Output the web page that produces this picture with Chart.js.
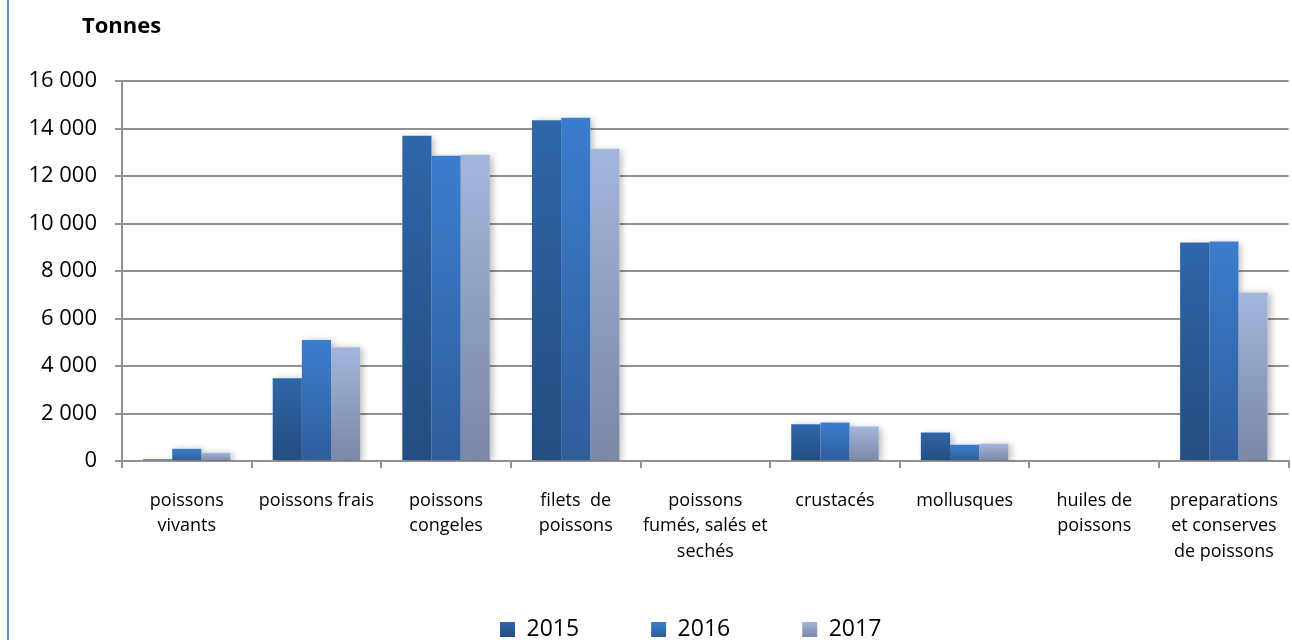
<!DOCTYPE html>
<html>
<head>
<meta charset="utf-8">
<script src="https://cdn.jsdelivr.net/npm/chart.js@4"></script>
<style>
  html, body { margin: 0; padding: 0; background: #fff; overflow: hidden; }
  #wrap { position: relative; width: 1292px; height: 640px; overflow: hidden; }
  #chart { position: absolute; left: 0; top: 0; }
  #frame { position: absolute; left: 7px; top: 0; width: 2px; height: 640px; background: #5b8bc9; }
</style>
</head>
<body>
<div id="wrap">
  <canvas id="chart" width="1298" height="640"></canvas>
  <div id="frame"></div>
</div>
<script>
// categories (multi-line labels as in the original)
const categories = [
    ['poissons', 'vivants'],
    ['poissons frais'],
    ['poissons', 'congeles'],
    ['filets  de', 'poissons'],
    ['poissons', 'fumés, salés et', 'sechés'],
    ['crustacés'],
    ['mollusques'],
    ['huiles de', 'poissons'],
    ['preparations', 'et conserves', 'de poissons']
]
const years = ['2015', '2016', '2017']

// tonnes
const values2015 = [70, 3480, 13700, 14350, 0, 1550, 1200, 0, 9200]
const values2016 = [520, 5090, 12850, 14450, 0, 1620, 680, 0, 9240]
const values2017 = [350, 4790, 12900, 13150, 0, 1450, 725, 0, 7100]

const yTicks = [0, 2000, 4000, 6000, 8000, 10000, 12000, 14000, 16000]

const colorsTop = ['#2e66a8', '#3b7dce', '#a3b6dc']
const colorsBottom = ['#244d80', '#2e5d9b', '#7a87a5']

const gridColor = '#919191'
const font = "'Open Sans', 'Noto Sans', sans-serif"

function fmt(v) {
    return String(v).replace(/\B(?=(\d{3})+(?!\d))/g, ' ')
}

// vertical gradient over each bar's own height
function barFill(i) {
    return function (ctx) {
        const chart = ctx.chart
        const y = chart.scales && chart.scales.y
        if (ctx.type !== 'data' || !y || !chart.chartArea) return colorsTop[i]
        const yTop = y.getPixelForValue(ctx.raw)
        const yBase = y.getPixelForValue(0)
        if (!(yBase - yTop > 1)) return colorsBottom[i]
        const g = chart.ctx.createLinearGradient(0, yTop, 0, yBase)
        g.addColorStop(0, colorsTop[i])
        g.addColorStop(1, colorsBottom[i])
        return g
    }
}

// soft shadow behind bars, drawn before the bars themselves
const barShadow = {
    id: 'barShadow',
    beforeDatasetsDraw(chart) {
        const c = chart.ctx
        const area = chart.chartArea
        c.save()
        c.beginPath()
        c.rect(area.left, area.top - 10, area.right - area.left + 10, area.bottom - area.top + 10)
        c.clip()
        c.shadowColor = 'rgba(0,0,0,0.28)'
        c.shadowBlur = 7
        c.shadowOffsetX = 3
        c.shadowOffsetY = 1
        c.fillStyle = '#ffffff'
        chart.getSortedVisibleDatasetMetas().forEach(meta => {
            meta.data.forEach(bar => {
                const h = bar.base - bar.y
                if (h > 0.5) c.fillRect(bar.x - bar.width / 2, bar.y, bar.width, h)
            })
        })
        c.restore()
    }
}

// move title and legend to where the original has them
const placeBoxes = {
    id: 'placeBoxes',
    afterLayout(chart) {
        const t = chart.titleBlock
        if (t) { t.left += 82; t.right += 82 }
        const l = chart.legend
        if (l && l.lineWidths) {
            const pad = l.options.labels.padding
            const startX = (l.left + pad + l.right - l.lineWidths[0]) / 2
            const dx = 500 - startX
            l.left += dx; l.right += dx
            // only the top moves, so the legend's clip box still covers the items
            l.top = 546
            l.bottom = chart.height
        }
    }
}

const datasets = [values2015, values2016, values2017].map((vals, i) => ({
    label: years[i],
    data: vals,
    backgroundColor: barFill(i),
    borderWidth: 0,
    barPercentage: 1,
    categoryPercentage: 0.675
}))

const chart = new Chart(document.getElementById('chart').getContext('2d'), {
    type: 'bar',
    data: { labels: categories, datasets: datasets },
    plugins: [barShadow, placeBoxes],
    options: {
        responsive: false,
        animation: false,
        devicePixelRatio: 1,
        layout: { padding: 0 },
        plugins: {
            title: {
                display: true,
                text: 'Tonnes',
                align: 'start',
                color: '#000',
                font: { family: font, size: 22, weight: 'bold', lineHeight: 1.2 },
                padding: { top: 14, bottom: 40.6 }
            },
            legend: {
                position: 'bottom',
                maxHeight: 40,
                labels: {
                    color: '#000',
                    font: { family: font, size: 23 },
                    boxWidth: 15,
                    boxHeight: 15,
                    padding: 72,
                    generateLabels(chart) {
                        const c = chart.ctx
                        return years.map((y, i) => {
                            const g = c.createLinearGradient(0, 622, 0, 637)
                            g.addColorStop(0, colorsTop[i])
                            g.addColorStop(1, colorsBottom[i])
                            return { text: y, fillStyle: g, strokeStyle: g, lineWidth: 0, hidden: false, datasetIndex: i, fontColor: '#000' }
                        })
                    }
                }
            },
            tooltip: { enabled: false }
        },
        scales: {
            x: {
                offset: true,
                afterFit(scale) { scale.height = 139 },
                grid: {
                    offset: true,
                    drawOnChartArea: false,
                    drawTicks: true,
                    tickLength: 7,
                    color: gridColor,
                    lineWidth: 2
                },
                border: { display: true, color: gridColor, width: 2 },
                ticks: {
                    color: '#000',
                    padding: 20,
                    maxRotation: 0,
                    autoSkip: false,
                    font: { family: font, size: 18, lineHeight: 1.42 }
                }
            },
            y: {
                min: 0,
                max: 16000,
                afterFit(scale) { scale.width = 122 },
                afterBuildTicks(scale) { scale.ticks = yTicks.map(v => ({ value: v })) },
                grid: {
                    drawTicks: true,
                    tickLength: 7,
                    color: gridColor,
                    lineWidth: 2
                },
                border: { display: true, color: gridColor, width: 2 },
                ticks: {
                    color: '#000',
                    padding: 18,
                    font: { family: font, size: 22 },
                    callback: v => fmt(v)
                }
            }
        }
    }
})
</script>
</body>
</html>
